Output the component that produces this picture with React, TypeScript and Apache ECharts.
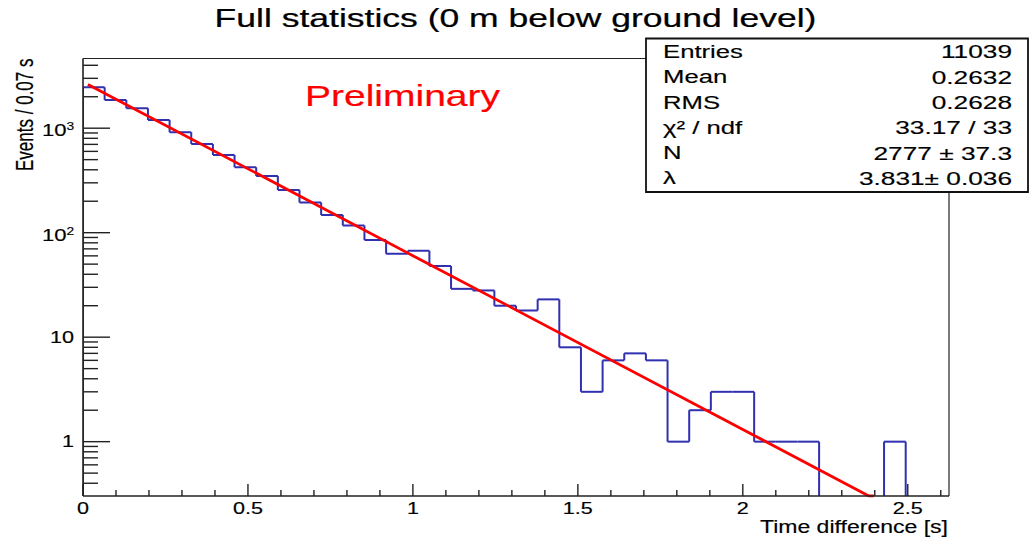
import React, { useEffect, useRef } from 'react';
import * as echarts from 'echarts';

// ---- data ----
const xMin = 0;
const xMax = 2.625;
const nBins = 40;
const yMin = 0.302;
const yMax = 4645;

const counts = [2462, 1862, 1550, 1197, 914, 706, 554, 422, 349, 256, 194, 148, 117, 85, 63, 67, 48, 29, 28, 20,
  18, 23, 8, 3, 6, 7, 6, 1, 2, 3, 3, 1, 1, 1, 0, 0, 0, 1, 0, 0];

const fitX = [0.015, 1.0, 2.0, 2.382, 2.397];
const fitY = [2620, 60.3, 1.31, 0.302, 0.302];

const xTickVals = [0, 0.5, 1, 1.5, 2, 2.5];
const xTickLabels = ['0', '0.5', '1', '1.5', '2', '2.5'];
const yTickVals = [1, 10, 100, 1000];
const yTickBase = ['1', '10', '10', '10'];
const yTickExp = ['', '', '2', '3'];

const statLabels = ['Entries', 'Mean', 'RMS', 'χ² / ndf', 'N', 'λ'];
const statValues = ['11039', '0.2632', '0.2628', '33.17 / 33', '2777 ± 37.3', '3.831± 0.036'];

const titleText = 'Full statistics (0 m below ground level)';
const yTitle = 'Events / 0.07 s';
const xTitle = 'Time difference [s]';
const prelimText = 'Preliminary';

const FONT = '"Liberation Sans", Arial, Helvetica, sans-serif';
const AXIS = '#222';
const TXT = '#000';
const HIST = '#3030b0';

function buildOption() {
  const bw = (xMax - xMin) / nBins;

  const histData = counts.map((c, i) => [i, c, i > 0 ? counts[i - 1] : 0]);

  const histRender = (params: any, api: any) => {
    const i = api.value(0);
    const c = api.value(1);
    const p = api.value(2);
    const x0 = xMin + i * bw;
    const x1 = x0 + bw;
    const yc = Math.max(c, yMin);
    const yp = Math.max(p, yMin);
    const a = api.coord([x0, yc]);
    const b = api.coord([x1, yc]);
    const v = api.coord([x0, yp]);
    const children: any[] = [];
    if (yc !== yp) {
      children.push({ type: 'line', shape: { x1: v[0], y1: v[1], x2: a[0], y2: a[1] }, style: { stroke: HIST, lineWidth: 2 } });
    }
    if (c > 0) {
      children.push({ type: 'line', shape: { x1: a[0], y1: a[1], x2: b[0], y2: b[1] }, style: { stroke: HIST, lineWidth: 2 } });
    }
    return { type: 'group', children };
  };

  const txtStyle = (text: string, size: number, align: string, extra: any = {}) => ({
    text, fill: TXT, fontSize: size, fontFamily: FONT, align, verticalAlign: 'middle',
    stroke: TXT, lineWidth: 0.15, ...extra,
  });

  const decorRender = (params: any, api: any) => {
    const children: any[] = [];
    const bl = api.coord([xMin, yMin]);
    const tr = api.coord([xMax, yMax]);
    const ln = (x1: number, y1: number, x2: number, y2: number, w = 1.4) =>
      children.push({ type: 'line', shape: { x1, y1, x2, y2 }, style: { stroke: AXIS, lineWidth: w } });
    // frame
    ln(bl[0], bl[1], tr[0], bl[1], 1.6);
    ln(bl[0], bl[1], bl[0], tr[1], 1.6);
    ln(bl[0], tr[1], tr[0], tr[1], 1.2);
    ln(tr[0], tr[1], tr[0], bl[1], 1.2);
    // y ticks
    for (let d = -1; d <= 3; d++) {
      for (let m = 1; m <= 9; m++) {
        const v = m * Math.pow(10, d);
        if (v < yMin || v > yMax) continue;
        const p = api.coord([xMin, v]);
        ln(p[0], p[1], p[0] + (m === 1 ? 27 : 15), p[1]);
      }
    }
    // x ticks
    for (let k = 0; k <= 26; k++) {
      const v = k / 10;
      if (v > xMax) continue;
      const p = api.coord([v, yMin]);
      ln(p[0], p[1], p[0], p[1] - (k % 5 === 0 ? 12 : 6));
    }
    // x labels
    xTickVals.forEach((v, i) => {
      const p = api.coord([v, yMin]);
      children.push({
        type: 'text', x: p[0], y: bl[1] + 13, scaleX: 1.35,
        style: txtStyle(xTickLabels[i], 16, 'center'),
      });
    });
    // y labels
    yTickVals.forEach((v, i) => {
      const p = api.coord([xMin, v]);
      if (yTickExp[i]) {
        children.push({
          type: 'text', x: bl[0] - 16.5, y: p[1] + 2.5, scaleX: 1.38,
          style: txtStyle(yTickBase[i], 16, 'right'),
        });
        children.push({
          type: 'text', x: bl[0] - 16.5, y: p[1] - 1.8, scaleX: 1.2,
          style: txtStyle(yTickExp[i], 11.5, 'left'),
        });
      } else {
        children.push({
          type: 'text', x: bl[0] - 9, y: p[1], scaleX: 1.35,
          style: txtStyle(yTickBase[i], 16, 'right'),
        });
      }
    });
    return { type: 'group', children };
  };

  const graphics: any[] = [];
  graphics.push({
    type: 'text', x: 515.5, y: 18, scaleX: 1.34, z: 100,
    style: txtStyle(titleText, 26.5, 'center', { lineWidth: 0.25 }),
  });
  graphics.push({
    type: 'text', x: 305, y: 96, scaleX: 1.3, z: 100,
    style: txtStyle(prelimText, 30, 'left', { fill: '#ff0000', stroke: '#ff0000', lineWidth: 0.2 }),
  });
  graphics.push({
    type: 'text', x: 24, y: 58.5, rotation: Math.PI / 2, scaleX: 1.05, scaleY: 1.5, z: 100,
    style: txtStyle(yTitle, 16.2, 'right'),
  });
  graphics.push({
    type: 'text', x: 948, y: 526, scaleX: 1.28, z: 100,
    style: txtStyle(xTitle, 18, 'right'),
  });
  // stats box
  graphics.push({
    type: 'rect', z: 100, shape: { x: 646, y: 38.5, width: 382, height: 153.5 },
    style: { fill: '#fff', stroke: '#111', lineWidth: 1.8 },
  });
  statLabels.forEach((t, i) => {
    const y = 51.8 + i * 25.3;
    graphics.push({
      type: 'text', x: 663, y, scaleX: 1.39, z: 101,
      style: txtStyle(t, 18.5, 'left'),
    });
    graphics.push({
      type: 'text', x: 1012, y, scaleX: 1.42, z: 101,
      style: txtStyle(statValues[i], 18.5, 'right'),
    });
  });

  return {
    animation: false,
    backgroundColor: '#ffffff',
    grid: { left: 83, right: 82, top: 58.5, bottom: 43, containLabel: false },
    xAxis: {
      type: 'value', min: xMin, max: xMax,
      axisLine: { show: false }, axisTick: { show: false }, axisLabel: { show: false }, splitLine: { show: false },
    },
    yAxis: {
      type: 'log', logBase: 10, min: yMin, max: yMax,
      axisLine: { show: false }, axisTick: { show: false }, axisLabel: { show: false }, splitLine: { show: false },
    },
    series: [
      {
        type: 'custom', name: 'hist', data: histData, renderItem: histRender, clip: true, silent: true, z: 2,
        encode: { x: 0, y: 1 },
      },
      {
        type: 'line', name: 'fit', data: fitX.map((x, i) => [x, fitY[i]]), showSymbol: false, symbol: 'none',
        lineStyle: { color: '#ff0000', width: 2.8 }, itemStyle: { color: '#ff0000' }, clip: true, silent: true, z: 3,
      },
      {
        type: 'custom', name: 'decor', data: [[xMin, 1]], renderItem: decorRender, clip: false, silent: true, z: 4,
      },
    ],
    graphic: graphics,
  };
}

export default function App() {
  const ref = useRef<HTMLDivElement>(null);
  useEffect(() => {
    const chart = echarts.init(ref.current!, null, { renderer: 'svg' });
    chart.setOption(buildOption() as any);
    return () => chart.dispose();
  }, []);
  return (
    <div
      ref={ref}
      style={{ position: 'fixed', left: 0, top: 0, width: 1031, height: 539, background: '#fff' }}
    />
  );
}
